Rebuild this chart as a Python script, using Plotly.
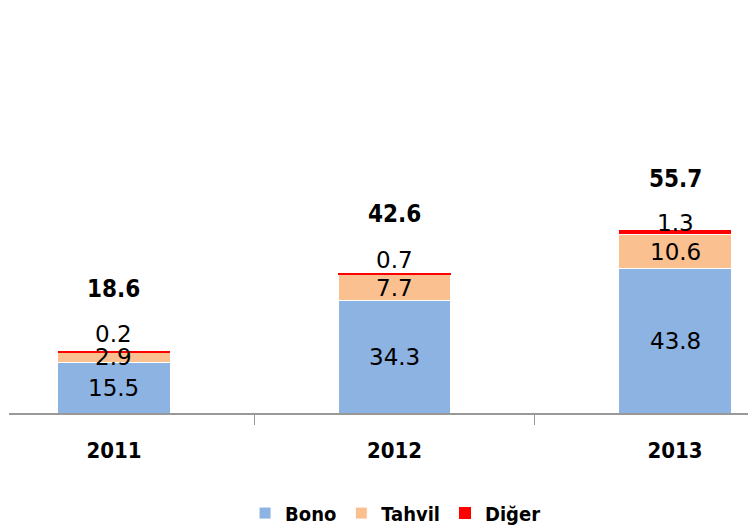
import plotly.graph_objects as go

years = ["2011", "2012", "2013"]
bono = [15.5, 34.3, 43.8]
tahvil = [2.9, 7.7, 10.6]
diger = [0.2, 0.7, 1.3]
totals = [18.6, 42.6, 55.7]

# label offsets (pixels) – style only
diger_label_shift = [18, 13, 7]
total_label_shift = [63, 59, 51]

C_BONO = "#8DB3E2"
C_TAHVIL = "#FAC090"
C_DIGER = "#FF0000"

fig = go.Figure()
fig.add_trace(go.Bar(x=years, y=bono, name="Bono", marker=dict(color=C_BONO, line=dict(color="white", width=1))))
fig.add_trace(go.Bar(x=years, y=tahvil, name="Tahvil", marker=dict(color=C_TAHVIL, line=dict(color="white", width=1))))
fig.add_trace(go.Bar(x=years, y=diger, name="Diğer", marker=dict(color=C_DIGER, line=dict(width=0))))

lab_font = dict(family="DejaVu Sans", size=23, color="black")
bold_font = dict(family="DejaVu Sans Condensed", size=24, color="black")

anns = []
for i, yr in enumerate(years):
    anns.append(dict(x=i, y=bono[i] / 2, text=f"{bono[i]:.1f}", showarrow=False, font=lab_font))
    anns.append(dict(x=i, y=bono[i] + tahvil[i] / 2, text=f"{tahvil[i]:.1f}", showarrow=False, font=lab_font))
    top = bono[i] + tahvil[i] + diger[i]
    anns.append(dict(x=i, y=top, yshift=diger_label_shift[i], text=f"{diger[i]:.1f}", showarrow=False, font=lab_font))
    anns.append(dict(x=i, y=top, yshift=total_label_shift[i], text=f"<b>{totals[i]:.1f}</b>", showarrow=False, font=bold_font))

fig.update_layout(
    barmode="stack",
    bargap=0.6,
    width=756, height=528,
    margin=dict(l=1, r=0, t=12, b=123),
    paper_bgcolor="white", plot_bgcolor="white",
    annotations=anns,
    showlegend=True,
    legend=dict(orientation="h", x=0.512, xanchor="center", y=-0.205, yanchor="top",
                font=dict(family="DejaVu Sans Condensed", size=20, color="black", weight="bold"),
                traceorder="normal", itemclick=False),
    xaxis=dict(type="category", range=[-0.374, 2.317], tickson="boundaries",
               ticks="outside", ticklen=10, tickwidth=1, tickcolor="#999999",
               showline=True, linecolor="#999999", linewidth=2, showgrid=False,
               tickfont=dict(family="DejaVu Sans Condensed", size=22, color="black", weight="bold"),
               ticklabelstandoff=17),
    yaxis=dict(range=[0, 119.5], visible=False, showgrid=False),
)

fig.write_html("out.html")
